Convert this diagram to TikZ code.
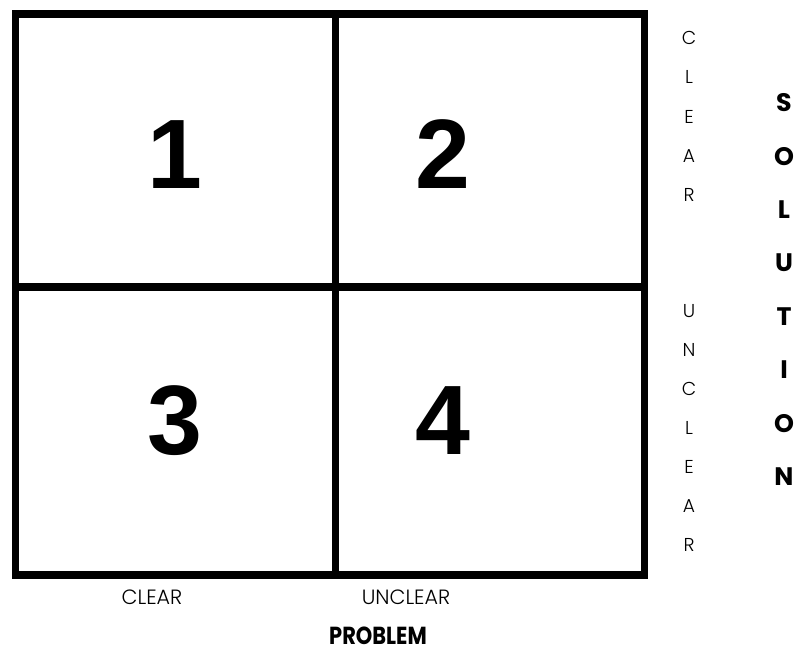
\documentclass[tikz,border=0pt]{standalone}
\usepackage{fontspec}
\setmainfont{Liberation Sans}
\newfontfamily\numfont{Liberation Sans}
\newfontfamily\thinfont{Poppins Light}
\newfontfamily\boldlab{Poppins}[FakeStretch=0.85]
\newfontfamily\boldcol{Poppins}
\tikzset{
  grid/.style={line width=5.6pt, line cap=rect},
  num/.style={font=\numfont\bfseries\fontsize{74pt}{74pt}\selectfont, inner sep=0pt, anchor=base},
  thinletter/.style={font=\thinfont\fontsize{14pt}{14pt}\selectfont, inner sep=0pt},
  boldletter/.style={font=\boldcol\bfseries\fontsize{19pt}{19pt}\selectfont, inner sep=0pt},
  axislab/.style={font=\thinfont\fontsize{15.5pt}{15.5pt}\selectfont, inner sep=0pt},
  axistitle/.style={font=\boldlab\bfseries\fontsize{18.5pt}{18.5pt}\selectfont, inner sep=0pt}
}
\begin{document}
\begin{tikzpicture}[x=0.75pt,y=-0.75pt]
\useasboundingbox (0,0) rectangle (794,655);
% frame corners and midpoints
\coordinate (tl) at (15.5,14);
\coordinate (br) at (644.5,575);
\coordinate (mt) at (335.5,14);
\coordinate (mb) at (335.5,575);
\coordinate (ml) at (15.5,287);
\coordinate (mr) at (644.5,287);
\draw[grid] (tl) rectangle (br);
\draw[grid] (mt) -- (mb);
\draw[grid] (ml) -- (mr);
% quadrant numbers
\node[num] (n1) at (174.5,189) {1};
\node[num] (n2) at (443,189) {2};
\node[num] (n3) at (175,455) {3};
\node[num] (n4) at (443,455) {4};
% vertical axis labels
\foreach \ch [count=\i from 0] in {C,L,E,A,R}
  \node[thinletter] (c\i) at (689,38+39.3*\i) {\ch};
\foreach \ch [count=\i from 0] in {U,N,C,L,E,A,R}
  \node[thinletter] (u\i) at (689,311+39*\i) {\ch};
\foreach \ch [count=\i from 0] in {S,O,L,U,T,I,O,N}
  \node[boldletter] (s\i) at (784,103+53.4*\i) {\ch};
% horizontal axis labels
\node[axislab] (pclear) at (152,597) {CLEAR};
\node[axislab] (punclear) at (406,597) {UNCLEAR};
\node[axistitle] (problem) at (378,636) {PROBLEM};
\end{tikzpicture}
\end{document}
